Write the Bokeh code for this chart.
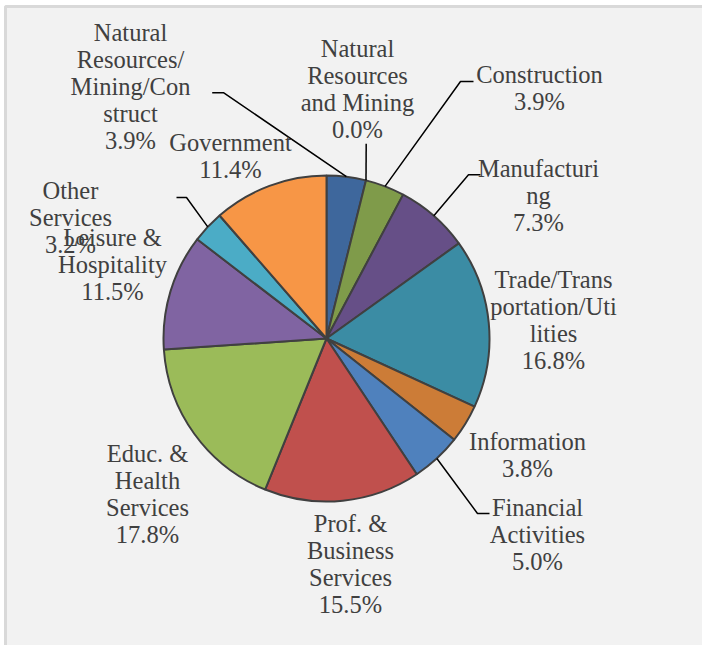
import numpy as np
from bokeh.plotting import figure
from bokeh.models import ColumnDataSource, Range1d
from bokeh.core.properties import value
from bokeh.embed import file_html
from bokeh.resources import INLINE

# ---------------- data ----------------
categories = [
    "Natural Resources/Mining/Construct",
    "Natural Resources and Mining",
    "Construction",
    "Manufacturing",
    "Trade/Transportation/Utilities",
    "Information",
    "Financial Activities",
    "Prof. & Business Services",
    "Educ. & Health Services",
    "Leisure & Hospitality",
    "Other Services",
    "Government",
]
shares = [3.9, 0.0, 3.9, 7.3, 16.8, 3.8, 5.0, 15.5, 17.8, 11.5, 3.2, 11.4]
wrapped_names = [
    "Natural\nResources/\nMining/Con\nstruct",
    "Natural\nResources\nand Mining",
    "Construction",
    "Manufacturi\nng",
    "Trade/Trans\nportation/Uti\nlities",
    "Information",
    "Financial\nActivities",
    "Prof. &\nBusiness\nServices",
    "Educ. &\nHealth\nServices",
    "Leisure &\nHospitality",
    "Other\nServices",
    "Government",
]

# ---------------- styles / layout ----------------
colors = ["#3E679C", "#9C4A47", "#7F9B4A", "#664F87", "#3B8CA4", "#CC7C37",
          "#4F81BD", "#C0504D", "#9BBB59", "#8064A2", "#4BACC6", "#F79646"]

W, H = 702, 645
def sx(X):  # window x -> plot x
    return X
def sy(Y):  # window y -> plot y
    return H - Y

CX, CY, R = sx(326), sy(338), 163

# label block centres (window px)
label_pos = [(130, 86), (357, 88), (539, 87), (538, 195), (553, 319), (527, 454),
             (537, 534), (350, 563), (147, 493), (112, 264), (70, 217), (230, 155)]
# leader lines: index -> (elbow, end) in window px
leaders = {
    0: ((223.3, 92.3), (211.7, 92.3)),
    1: ((365.7, 143.3), (365.7, 143.3)),
    2: ((460, 81), (473, 81)),
    3: ((468, 174.3), (480, 174.3)),
    6: ((477, 513), (489, 513)),
    10: ((186, 197), (176, 197)),
}

# ---------------- geometry from data ----------------
vals = np.array(shares, dtype=float)
total = vals.sum()
cum_end = np.cumsum(vals) / total
cum_start = cum_end - vals / total
start_ang = np.pi / 2 - cum_end * 2 * np.pi
end_ang = np.pi / 2 - cum_start * 2 * np.pi
mid_frac = (cum_start + cum_end) / 2

mask = vals > 0
wsrc = ColumnDataSource(dict(
    start=start_ang[mask], end=end_ang[mask],
    color=[c for c, m in zip(colors, mask) if m],
    name=[c for c, m in zip(categories, mask) if m],
))

p = figure(width=W, height=H, output_backend="svg", toolbar_location=None,
           x_range=Range1d(0, W), y_range=Range1d(0, H),
           x_axis_type=None, y_axis_type=None, min_border=0,
           background_fill_color="#FFFFFF", border_fill_color="#FFFFFF")
p.outline_line_color = None
p.grid.visible = False

# chart panel: background and top/left frame edge
p.quad(left=sx(4), right=W, top=sy(5), bottom=0, fill_color="#F2F2F2", line_color=None)
p.line(x=[sx(5), sx(5), W], y=[0, sy(6), sy(6)], line_color="#D9D9D9", line_width=3)

p.wedge(x=CX, y=CY, radius=R, start_angle="start", end_angle="end",
        fill_color="color", line_color="#404040", line_width=2, source=wsrc)

# leader lines
lx, ly = [], []
for i, (elbow, end) in leaders.items():
    a = 2 * np.pi * mid_frac[i]
    x0 = CX + R * np.sin(a)
    y0 = CY + R * np.cos(a)
    lx.append([x0, sx(elbow[0]), sx(end[0])])
    ly.append([y0, sy(elbow[1]), sy(end[1])])
p.multi_line(xs=lx, ys=ly, line_color="#000000", line_width=1.5)

# labels
texts = [f"{n}\n{v:.1f}%" for n, v in zip(wrapped_names, shares)]
tsrc = ColumnDataSource(dict(
    x=[sx(px) for px, _ in label_pos],
    y=[sy(py) for _, py in label_pos],
    text=texts,
))
p.text(x="x", y="y", text="text", source=tsrc, text_align="center",
       text_baseline="middle", text_font=value("Liberation Serif"),
       text_font_size="24.5px", text_line_height=1.0, text_color="#404040")

open("out.html", "w").write(file_html(p, INLINE))
